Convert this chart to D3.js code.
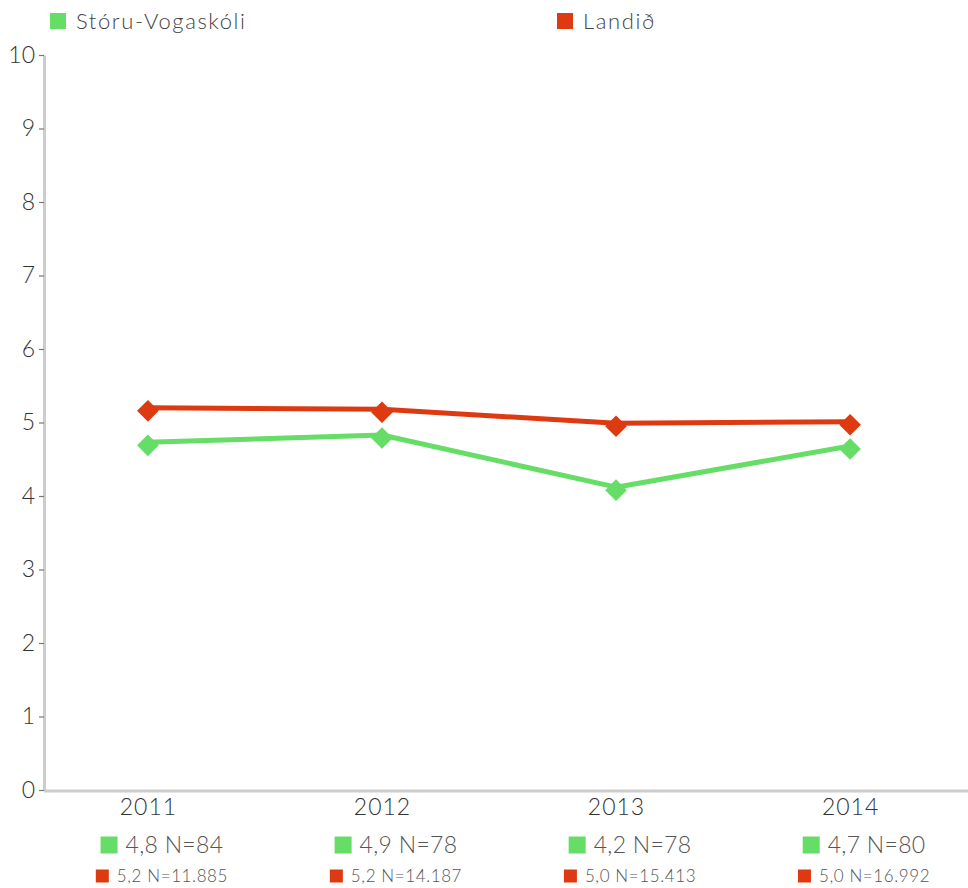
<!DOCTYPE html>
<html lang="is">
<head>
  <meta charset="UTF-8">
  <title>Stóru-Vogaskóli</title>
  <script src="https://d3js.org/d3.v7.min.js"></script>
  <style>
    * { margin: 0; padding: 0; box-sizing: border-box; }
    body { font-family: Lato, "Noto Sans", sans-serif; background: #fff; }
    text { font-family: Lato, "Noto Sans", sans-serif; font-weight: 300; }
  </style>
</head>
<body>
  <div id="chart"></div>
  <script>
    const years = ["2011", "2012", "2013", "2014"];
    const seriesNames = ["Stóru-Vogaskóli", "Landið"];
    const schoolValues = [4.73, 4.83, 4.12, 4.68];
    const countryValues = [5.20, 5.18, 4.99, 5.01];
    const schoolLabels = ["4,8 N=84", "4,9 N=78", "4,2 N=78", "4,7 N=80"];
    const countryLabels = ["5,2 N=11.885", "5,2 N=14.187", "5,0 N=15.413", "5,0 N=16.992"];
    const yTicks = [0, 1, 2, 3, 4, 5, 6, 7, 8, 9, 10];

    const colors = ["#66dd66", "#dd3a12"];

    const W = 968, H = 888;
    const plotLeft = 44, plotTop = 55, plotBottom = 790;

    const svg = d3.select("#chart")
                  .append("svg")
                  .attr("width", W)
                  .attr("height", H);

    const x = d3.scalePoint()
                .domain(years)
                .range([plotLeft, 954])
                .padding(0.444);

    const y = d3.scaleLinear()
                .domain([0, 10])
                .range([plotBottom, plotTop]);

    // y axis
    const yAxis = svg.append("g")
       .attr("transform", `translate(${plotLeft},0)`)
       .call(d3.axisLeft(y).tickValues(yTicks).tickSize(5).tickPadding(4).tickSizeOuter(0));
    yAxis.select(".domain").attr("stroke", "#cccccc").attr("stroke-width", 3);
    yAxis.selectAll(".tick line").attr("stroke", "#777").attr("stroke-width", 1.2);
    yAxis.selectAll(".tick text")
         .attr("fill", "#333")
         .style("font-size", "23px")
         .style("font-family", null);

    // x axis
    const xAxis = svg.append("g")
       .attr("transform", `translate(0,${plotBottom + 1})`)
       .call(d3.axisBottom(x).tickSize(0).tickPadding(8).tickSizeOuter(0));
    xAxis.select(".domain").attr("d", `M${plotLeft},0H${W}`).attr("stroke", "#cccccc").attr("stroke-width", 3);
    xAxis.selectAll(".tick text")
         .attr("fill", "#333")
         .style("font-size", "23px")
         .style("letter-spacing", "1px")
         .style("font-family", null);

    // lines
    const seriesData = [schoolValues, countryValues];
    const line = d3.line()
                   .x((d, i) => x(years[i]))
                   .y(d => y(d));

    seriesData.forEach((vals, s) => {
      svg.append("path")
         .datum(vals)
         .attr("fill", "none")
         .attr("stroke", colors[s])
         .attr("stroke-width", 5)
         .attr("stroke-linejoin", "round")
         .attr("d", line);
    });

    seriesData.forEach((vals, s) => {
      svg.selectAll(".mk" + s)
         .data(vals)
         .enter()
         .append("path")
         .attr("class", "mk" + s)
         .attr("d", d3.symbol().type(d3.symbolDiamond2).size(300))
         .attr("transform", (d, i) => `translate(${x(years[i])},${y(d) + 3})`)
         .attr("fill", colors[s]);
    });

    // legend at top
    const legendX = [50, 557];
    seriesNames.forEach((name, s) => {
      const g = svg.append("g").attr("transform", `translate(${legendX[s]},13)`);
      g.append("rect").attr("width", 16).attr("height", 16).attr("fill", colors[s]);
      g.append("text")
       .attr("x", 26)
       .attr("y", 16)
       .attr("fill", "#444")
       .style("font-size", "22px")
       .style("letter-spacing", "1.6px")
       .text(name);
    });

    // labels under each year
    function labelRow(labels, color, yPos, box, fontSize, spacing) {
      labels.forEach((t, i) => {
        const g = svg.append("g");
        g.append("rect")
         .attr("width", box).attr("height", box)
         .attr("y", -box / 2)
         .attr("fill", color);
        const txt = g.append("text")
         .attr("x", box + 8)
         .attr("y", 0)
         .attr("dy", "0.35em")
         .attr("fill", "#555")
         .style("font-size", fontSize + "px")
         .style("letter-spacing", spacing + "px")
         .text(t);
        const w = box + 8 + txt.node().getComputedTextLength();
        g.attr("transform", `translate(${x(years[i]) + 14 - w / 2},${yPos})`);
      });
    }
    labelRow(schoolLabels, colors[0], 845, 17, 23, 0.3);
    labelRow(countryLabels, colors[1], 876, 13, 17, 0.6);
  </script>
</body>
</html>
